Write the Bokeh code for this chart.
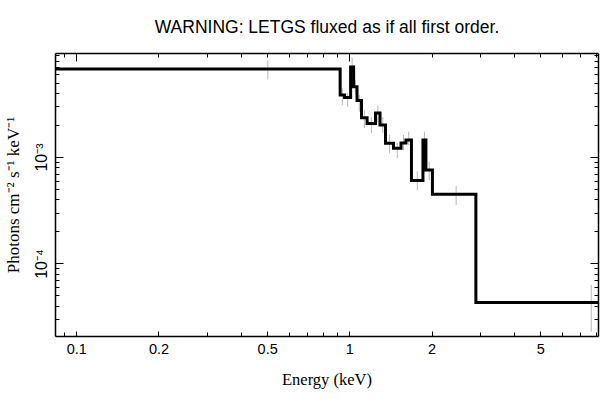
import numpy as np
from bokeh.plotting import figure
from bokeh.models import LogAxis, FixedTicker, ColumnDataSource, Range1d, Title
from bokeh.embed import file_html
from bokeh.resources import INLINE

# Data
bin_edges = [0.080, 0.921, 0.956, 1.006, 1.032, 1.062, 1.103, 1.156, 1.241, 1.289,
             1.350, 1.444, 1.539, 1.604, 1.680, 1.851, 1.898, 2.005, 2.892, 12.4]
flux = [6.78e-3, 3.86e-3, 3.66e-3, 7.08e-3, 4.62e-3, 3.43e-3, 2.37e-3, 2.09e-3,
        2.62e-3, 2.02e-3, 1.36e-3, 1.22e-3, 1.37e-3, 1.46e-3, 6.08e-4, 1.46e-3,
        7.63e-4, 4.51e-4, 4.33e-5]
flux_lo = [5.42e-3, 3.11e-3, 3.00e-3, 5.82e-3, 3.90e-3, 2.70e-3, 1.90e-3, 1.70e-3,
           2.15e-3, 1.70e-3, 1.10e-3, 0.99e-3, 1.17e-3, 1.31e-3, 4.95e-4, 1.20e-3,
           6.10e-4, 3.58e-4, 2.31e-5]
flux_hi = [8.11e-3, 4.49e-3, 4.03e-3, 8.60e-3, 5.30e-3, 3.90e-3, 2.80e-3, 2.40e-3,
           3.10e-3, 2.40e-3, 1.63e-3, 1.37e-3, 1.63e-3, 1.75e-3, 7.40e-4, 1.75e-3,
           9.10e-4, 5.40e-4, 6.35e-5]

x_tick_vals = [0.1, 0.2, 0.5, 1, 2, 5]
x_tick_labels = ["0.1", "0.2", "0.5", "1", "2", "5"]
x_minor = [0.09, 0.3, 0.4, 0.6, 0.7, 0.8, 0.9, 3, 4, 6, 7, 8]
x_decades = [0.1, 1]
x_all_minor = [0.09, 0.2, 0.3, 0.4, 0.5, 0.6, 0.7, 0.8, 0.9, 2, 3, 4, 5, 6, 7, 8]
y_tick_vals = [1e-4, 1e-3]
y_tick_labels = ["10\u207b\u2074", "10\u207b\u00b3"]
y_minor = [3e-5, 4e-5, 5e-5, 6e-5, 7e-5, 8e-5, 9e-5,
           2e-4, 3e-4, 4e-4, 5e-4, 6e-4, 7e-4, 8e-4, 9e-4,
           2e-3, 3e-3, 4e-3, 5e-3, 6e-3, 7e-3, 8e-3, 9e-3]

title_text = "WARNING: LETGS fluxed as if all first order."
x_label = "Energy (keV)"
y_label = "Photons cm\u207b\u00b2 s\u207b\u00b9 keV\u207b\u00b9"

edges = np.array(bin_edges)
centers = (edges[:-1] + edges[1:]) / 2.0

p = figure(width=601, height=391, x_axis_type="log", y_axis_type="log",
           x_range=Range1d(0.0836, 8.13), y_range=Range1d(2.08e-5, 9.5e-3),
           output_backend="svg", toolbar_location=None,
           min_border_left=54, min_border_right=3, min_border_top=53, min_border_bottom=54)

p.title = Title(text=title_text, align="center", text_font="Liberation Sans",
                text_font_size="17.5px", text_font_style="normal", text_color="black",
                vertical_align="top", standoff=30)
p.xgrid.visible = False
p.ygrid.visible = False
p.outline_line_color = None
p.background_fill_color = "white"
p.border_fill_color = "white"

# error bars
err_src = ColumnDataSource(dict(x=list(centers), lo=flux_lo, hi=flux_hi))
p.segment(x0="x", y0="lo", x1="x", y1="hi", source=err_src,
          line_color="#b8b8b8", line_width=1)

# step histogram
step_src = ColumnDataSource(dict(x=list(edges), y=flux + [flux[-1]]))
p.step(x="x", y="y", source=step_src, mode="after", line_color="black",
       line_width=3, line_join="miter")

def style_axis(ax, major_len, minor_len):
    ax.axis_line_color = "black"
    ax.axis_line_width = 1.5
    ax.major_tick_in = major_len
    ax.major_tick_out = 0
    ax.minor_tick_in = minor_len
    ax.minor_tick_out = 0
    ax.major_tick_line_color = "black"
    ax.minor_tick_line_color = "black"
    ax.major_tick_line_width = 1
    ax.minor_tick_line_width = 1

xa = p.xaxis[0]
xa.ticker = FixedTicker(ticks=x_tick_vals, minor_ticks=x_minor)
xa.major_label_overrides = {v: l for v, l in zip(x_tick_vals, x_tick_labels)}
style_axis(xa, 5, 4)
xa.major_label_text_font = "Liberation Sans"
xa.major_label_text_font_size = "14.5px"
xa.major_label_text_color = "black"
xa.major_label_standoff = 7
xa.axis_label = x_label
xa.axis_label_text_font = "Liberation Serif"
xa.axis_label_text_font_size = "16.5px"
xa.axis_label_text_font_style = "normal"
xa.axis_label_text_color = "black"
xa.axis_label_standoff = 13

ya = p.yaxis[0]
ya.ticker = FixedTicker(ticks=y_tick_vals, minor_ticks=y_minor)
ya.major_label_overrides = {v: l for v, l in zip(y_tick_vals, y_tick_labels)}
style_axis(ya, 8, 4)
ya.major_label_orientation = "vertical"
ya.major_label_text_font = "Liberation Sans"
ya.major_label_text_font_size = "16px"
ya.major_label_text_color = "black"
ya.major_label_standoff = 5
ya.axis_label = y_label
ya.axis_label_text_font = "Liberation Serif"
ya.axis_label_text_font_size = "17px"
ya.axis_label_text_font_style = "normal"
ya.axis_label_text_color = "black"
ya.axis_label_standoff = 8

top = LogAxis(ticker=FixedTicker(ticks=x_decades, minor_ticks=x_all_minor),
              major_label_text_font_size="1px", major_label_text_alpha=0,
              major_label_standoff=0)
style_axis(top, 8, 4)
p.add_layout(top, "above")

right = LogAxis(ticker=FixedTicker(ticks=y_tick_vals, minor_ticks=y_minor),
                major_label_text_font_size="1px", major_label_text_alpha=0,
                major_label_standoff=0)
style_axis(right, 8, 4)
p.add_layout(right, "right")

open("out.html", "w").write(file_html(p, INLINE))
